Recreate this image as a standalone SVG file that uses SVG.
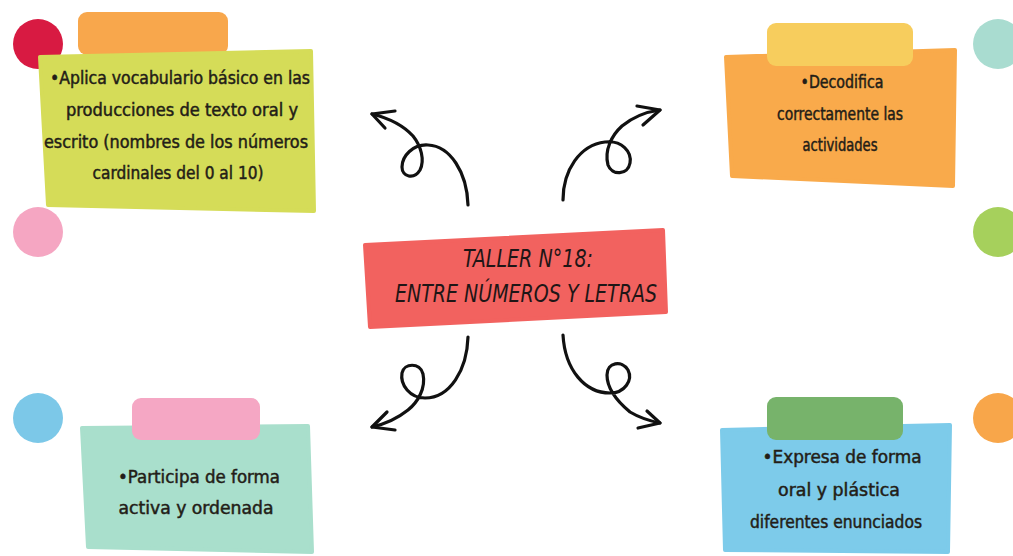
<svg xmlns="http://www.w3.org/2000/svg" width="1013" height="556" viewBox="0 0 1013 556">
<defs>
<style>
.t{font-family:"DejaVu Sans Condensed","DejaVu Sans",sans-serif;font-size:17px;fill:#231d17;stroke:#231d17;stroke-width:0.45;text-anchor:middle}
.h{font-family:"DejaVu Sans Condensed","DejaVu Sans",sans-serif;font-size:25px;font-style:italic;fill:#1e1616;text-anchor:middle}
.a{fill:none;stroke:#111;stroke-width:3.2;stroke-linecap:round;stroke-linejoin:round}
</style>
</defs>
<rect width="1013" height="556" fill="#ffffff"/>
<g id="dots">
<circle cx="38" cy="44" r="25" fill="#d81a42"/>
<circle cx="38" cy="232" r="25" fill="#f5a6c2"/>
<circle cx="38" cy="418" r="25" fill="#7cc8e8"/>
<circle cx="998" cy="44" r="25" fill="#a9dcd0"/>
<circle cx="998" cy="232" r="25" fill="#a6d05c"/>
<circle cx="998" cy="418" r="25" fill="#f8a64a"/>
</g>
<g id="node-top-left">
<rect x="78" y="12" width="150" height="43" rx="9" fill="#f8a74c"/>
<path d="M40,57 L311,51 L314,211 L48,205 Z" fill="#d5dc58" stroke="#d5dc58" stroke-width="4" stroke-linejoin="round"/>
<text class="t" x="180" y="84" textLength="260" lengthAdjust="spacingAndGlyphs">•Aplica vocabulario básico en las</text>
<text class="t" x="182" y="116" textLength="232" lengthAdjust="spacingAndGlyphs">producciones de texto oral y</text>
<text class="t" x="176" y="148" textLength="264" lengthAdjust="spacingAndGlyphs">escrito (nombres de los números</text>
<text class="t" x="178" y="179" textLength="171" lengthAdjust="spacingAndGlyphs">cardinales del 0 al 10)</text>
</g>
<g id="node-top-right">
<path d="M726,57 L955,50 L953,186 L732,176 Z" fill="#f9aa4b" stroke="#f9aa4b" stroke-width="4" stroke-linejoin="round"/>
<rect x="767" y="23" width="146" height="43" rx="9" fill="#f7cd5d"/>
<text class="t" x="842" y="88" textLength="83" lengthAdjust="spacingAndGlyphs">•Decodifica</text>
<text class="t" x="840" y="120" textLength="126" lengthAdjust="spacingAndGlyphs">correctamente las</text>
<text class="t" x="840" y="151" textLength="75" lengthAdjust="spacingAndGlyphs">actividades</text>
</g>
<g id="node-center">
<path d="M365,245 L663,230 L666,312 L370,327 Z" fill="#f2625f" stroke="#f2625f" stroke-width="4" stroke-linejoin="round"/>
<text class="h" x="528" y="267" textLength="130" lengthAdjust="spacingAndGlyphs">TALLER N°18:</text>
<text class="h" x="526" y="302" textLength="262" lengthAdjust="spacingAndGlyphs">ENTRE NÚMEROS Y LETRAS</text>
</g>
<g id="node-bottom-left">
<path d="M82,428 L308,426 L312,552 L88,547 Z" fill="#a9dfcc" stroke="#a9dfcc" stroke-width="4" stroke-linejoin="round"/>
<rect x="132" y="398" width="128" height="42" rx="9" fill="#f5a7c4"/>
<text class="t" x="199" y="483" textLength="162" lengthAdjust="spacingAndGlyphs">•Participa de forma</text>
<text class="t" x="196" y="514" textLength="155" lengthAdjust="spacingAndGlyphs">activa y ordenada</text>
</g>
<g id="node-bottom-right">
<path d="M722,430 L950,425 L948,552 L725,550 Z" fill="#7dcbea" stroke="#7dcbea" stroke-width="4" stroke-linejoin="round"/>
<rect x="767" y="397" width="136" height="43" rx="9" fill="#77b36b"/>
<text class="t" x="842" y="463" textLength="159" lengthAdjust="spacingAndGlyphs">•Expresa de forma</text>
<text class="t" x="839" y="496" textLength="122" lengthAdjust="spacingAndGlyphs">oral y plástica</text>
<text class="t" x="836" y="528" textLength="172" lengthAdjust="spacingAndGlyphs">diferentes enunciados</text>
</g>
<g id="connectors">
<path class="a" d="M468,205 C467,172 450,146 428,145 C413,144 402,156 402,167 C402,177 414,180 420,170 C425,160 421,146 413,136 C402,124 388,118 372,114"/>
<path class="a" d="M395,111 L372,114 L385,128"/>
<path class="a" d="M563,200 C563,170 580,145 605,142 C622,140 632,152 630,163 C628,175 612,176 608,165 C604,150 612,135 622,126 C633,117 645,112 660,110"/>
<path class="a" d="M637,106 L660,110 L643,125"/>
<path class="a" d="M468,337 C467,370 450,398 425,398 C410,398 400,385 402,373 C404,363 420,362 423,374 C426,388 418,402 408,410 C398,418 385,424 372,427"/>
<path class="a" d="M387,412 L372,427 L395,430"/>
<path class="a" d="M563,335 C565,370 585,393 610,393 C625,393 633,380 628,370 C622,360 607,362 607,375 C607,390 618,402 630,412 C640,418 650,421 660,423"/>
<path class="a" d="M647,411 L660,423 L638,428"/>
</g>
</svg>
